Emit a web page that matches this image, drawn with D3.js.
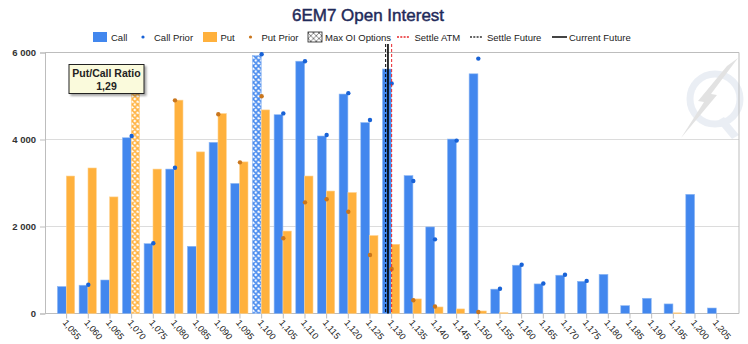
<!DOCTYPE html>
<html><head><meta charset="utf-8">
<script src="https://cdn.jsdelivr.net/npm/d3@7/dist/d3.min.js"></script>
<style>body{margin:0;background:#fff}svg{display:block;font-family:"Liberation Sans",Arial,sans-serif}</style>
</head><body><svg id="c" width="748" height="344"></svg>
<script>
const strikes = ["1,055","1,060","1,065","1,070","1,075","1,080","1,085","1,090","1,095","1,100","1,105","1,110","1,115","1,120","1,125","1,130","1,135","1,140","1,145","1,150","1,155","1,160","1,165","1,170","1,175","1,180","1,185","1,190","1,195","1,200","1,205"];
const strikeValues = strikes.map(s => +s.replace(",", "."));
const callOI =      [620,650,770,4040,1605,3320,1545,3935,2990,5930,4570,5800,4080,5045,4390,5620,3170,1990,4010,5510,560,1110,680,880,740,900,180,350,220,2740,126];
const callPrior =   [null,660,null,4080,1615,3350,null,null,null,5960,4600,5800,4105,5065,4450,5290,3045,1705,3975,5860,570,1120,690,890,750,null,null,null,null,null,null];
const putOI =       [3160,3345,2680,5100,3320,4905,3715,4595,3485,4680,1895,3160,2815,2780,1790,1590,335,150,105,58,18,0,0,0,0,0,0,0,15,0,0];
const putPrior =    [null,null,null,null,null,4900,null,4580,3475,4995,1730,2555,2625,2340,1345,1025,305,160,null,35,null,null,null,null,null,null,null,null,null,null,null];
const maxCallStrike = "1,100";
const maxPutStrike = "1,070";
const settleATM = 1.130, settleFuture = 1.12862, currentFuture = 1.12915;
const yTicks = [0,2000,4000,6000];
const putCallRatio = "1,29";
const legendItems = ["Call","Call Prior","Put","Put Prior","Max OI Options","Settle ATM","Settle Future","Current Future"];

const svg = d3.select("#c");
const L = 45, R = 739, T = 52.5, B = 313.5;
const BLUE = "#4287ee", ORANGE = "#ffb13d";
const x = d3.scaleBand().domain(strikes).range([55.8, 727.5]).padding(0);
const y = d3.scaleLinear().domain([0, 6000]).range([B, T]);
const cx = s => x(s) + x.bandwidth() / 2;
const step = x.step();
const xv = v => cx(strikes[0]) + (v - strikeValues[0]) / 0.005 * step;

const defs = svg.append("defs");
function hatch(id, col, w) {
  const p = defs.append("pattern").attr("id", id).attr("width", 5.5).attr("height", 5.5).attr("patternUnits", "userSpaceOnUse");
  p.append("rect").attr("width", 5.5).attr("height", 5.5).attr("fill", "#fff");
  p.append("path").attr("d", "M0,0L5.5,5.5M5.5,0L0,5.5M-1,4.5L1,6.5M4.5,-1L6.5,1M-1,1L1,-1M4.5,6.5L6.5,4.5").attr("stroke", col).attr("stroke-width", w);
}
hatch("hb", BLUE, 1.6); hatch("ho", ORANGE, 1.6); hatch("hk", "#555", 0.7);
const sh = defs.append("filter").attr("id", "sh").attr("x", "-20%").attr("y", "-20%").attr("width", "150%").attr("height", "160%");
sh.append("feDropShadow").attr("dx", 2).attr("dy", 2).attr("stdDeviation", 1).attr("flood-color", "#000").attr("flood-opacity", 0.35);

// watermark
const wm = svg.append("g").attr("opacity", 0.5);
wm.append("circle").attr("cx", 715).attr("cy", 99).attr("r", 25).attr("fill", "none").attr("stroke", "#d6deea").attr("stroke-width", 7);
wm.append("path").attr("d", "M724,117 L739,135 L732,139 L717,121Z").attr("fill", "#d6deea");
wm.append("path").attr("d", "M738,58 L711,94 L717,95 L681,138 L704,102 L698,101 L727,66Z").attr("fill", "#c6c6c6");

// grid
svg.append("g").selectAll("line").data(yTicks.filter(d => d > 0 && d < 6000)).join("line")
  .attr("x1", L).attr("x2", R).attr("y1", d => y(d)).attr("y2", d => y(d)).attr("stroke", "#dcdcdc");
svg.append("line").attr("x1", L).attr("x2", R).attr("y1", T).attr("y2", T).attr("stroke", "#bdbdbd");
svg.append("line").attr("x1", R).attr("x2", R).attr("y1", T).attr("y2", B).attr("stroke", "#bdbdbd");

// y axis
const ya = svg.append("g").attr("transform", `translate(${L},0)`).call(d3.axisLeft(y).tickValues(yTicks).tickSize(5).tickPadding(4).tickFormat(d => d3.format(",")(d).replace(",", " ")));
ya.select(".domain").attr("stroke", "#bdbdbd");
ya.selectAll(".tick line").attr("stroke", "#bdbdbd");
ya.selectAll("text").attr("font-family", "Liberation Sans, Arial").attr("font-size", 9.5).attr("font-weight", "bold").attr("fill", "#333");

// x axis
const xa = svg.append("g").attr("transform", `translate(0,${B})`).call(d3.axisBottom(x).tickSize(5).tickFormat(""));
xa.select(".domain").attr("d", `M${L},0H${R}`).attr("stroke", "#bdbdbd");
xa.selectAll(".tick line").attr("stroke", "#bdbdbd");
svg.append("g").selectAll("text").data(strikes).join("text")
  .attr("transform", d => `translate(${cx(d) - 4.5},${B + 9.5}) rotate(50)`)
  .attr("font-size", 9).attr("fill", "#222").text(d => d);

// bars
const g = svg.append("g");
g.selectAll(".cb").data(strikes).join("rect").attr("class", "cb")
  .attr("x", d => cx(d) - 9.2).attr("width", 8.8)
  .attr("y", (d, i) => y(callOI[i])).attr("height", (d, i) => B - y(callOI[i]))
  .attr("fill", d => d === maxCallStrike ? "url(#hb)" : BLUE).attr("stroke", "#8fb8f3").attr("stroke-width", 0.6);
g.selectAll(".pb").data(strikes).join("rect").attr("class", "pb")
  .attr("x", d => cx(d) - 0.3).attr("width", 8.3)
  .attr("y", (d, i) => y(putOI[i])).attr("height", (d, i) => B - y(putOI[i]))
  .attr("fill", d => d === maxPutStrike ? "url(#ho)" : ORANGE).attr("stroke", "#ffd08a").attr("stroke-width", (d, i) => putOI[i] > 0 ? 0.6 : 0);

// vertical lines
const vl = [[settleFuture, "#000", "3,2", 1], [currentFuture, "#000", null, 1.6], [settleATM, "#e8262a", "3,2", 1]];
vl.forEach(([v, c, da, w]) => {
  svg.append("line").attr("x1", xv(v)).attr("x2", xv(v)).attr("y1", 44).attr("y2", B)
    .attr("stroke", c).attr("stroke-width", w).attr("stroke-dasharray", da);
});

// prior dots
g.selectAll(".cd").data(strikes.filter((d, i) => callPrior[i] != null)).join("circle")
  .attr("cx", d => cx(d)).attr("cy", d => y(callPrior[strikes.indexOf(d)])).attr("r", 2.2).attr("fill", "#1862d6");
g.selectAll(".pd").data(strikes.filter((d, i) => putPrior[i] != null)).join("circle")
  .attr("cx", d => cx(d)).attr("cy", d => y(putPrior[strikes.indexOf(d)])).attr("r", 2.2).attr("fill", "#c9761d");

// title
svg.append("text").attr("x", 368).attr("y", 21).attr("text-anchor", "middle").attr("font-size", 17).attr("fill", "#1f2a5a")
  .attr("stroke", "#1f2a5a").attr("stroke-width", 0.45).text("6EM7 Open Interest");

// legend
const lg = svg.append("g").attr("font-size", 9.5).attr("fill", "#222");
const ly = 37;
lg.append("rect").attr("x", 93).attr("y", ly - 5).attr("width", 14).attr("height", 10).attr("fill", BLUE);
lg.append("circle").attr("cx", 143).attr("cy", ly).attr("r", 1.6).attr("fill", "#1862d6");
lg.append("rect").attr("x", 203).attr("y", ly - 5).attr("width", 14).attr("height", 10).attr("fill", ORANGE);
lg.append("circle").attr("cx", 250.5).attr("cy", ly).attr("r", 1.6).attr("fill", "#c9761d");
lg.append("rect").attr("x", 308).attr("y", ly - 5).attr("width", 14).attr("height", 10).attr("fill", "url(#hk)").attr("stroke", "#222").attr("stroke-width", 0.8);
lg.append("line").attr("x1", 397).attr("x2", 410).attr("y1", ly).attr("y2", ly).attr("stroke", "#e8262a").attr("stroke-dasharray", "2,1.3").attr("stroke-width", 1.3);
lg.append("line").attr("x1", 470).attr("x2", 483).attr("y1", ly).attr("y2", ly).attr("stroke", "#333").attr("stroke-dasharray", "2,1.3").attr("stroke-width", 1.3);
lg.append("line").attr("x1", 552).attr("x2", 567).attr("y1", ly).attr("y2", ly).attr("stroke", "#444").attr("stroke-width", 2);
const lx = [111, 154, 220.5, 261.5, 325, 414.5, 487, 569];
lg.selectAll("text").data(legendItems).join("text").attr("x", (d, i) => lx[i]).attr("y", ly + 3.5).text(d => d);

// tooltip
const tt = svg.append("g");
tt.append("rect").attr("x", 69).attr("y", 64.5).attr("width", 75).attr("height", 29).attr("fill", "#fafadc").attr("stroke", "#222").attr("stroke-width", 1).attr("filter", "url(#sh)");
tt.append("text").attr("x", 106.5).attr("y", 77).attr("text-anchor", "middle").attr("font-size", 10.5).attr("font-weight", "bold").attr("fill", "#222").text("Put/Call Ratio");
tt.append("text").attr("x", 106.5).attr("y", 89.5).attr("text-anchor", "middle").attr("font-size", 10.5).attr("font-weight", "bold").attr("fill", "#222").text(putCallRatio);
</script></body></html>
